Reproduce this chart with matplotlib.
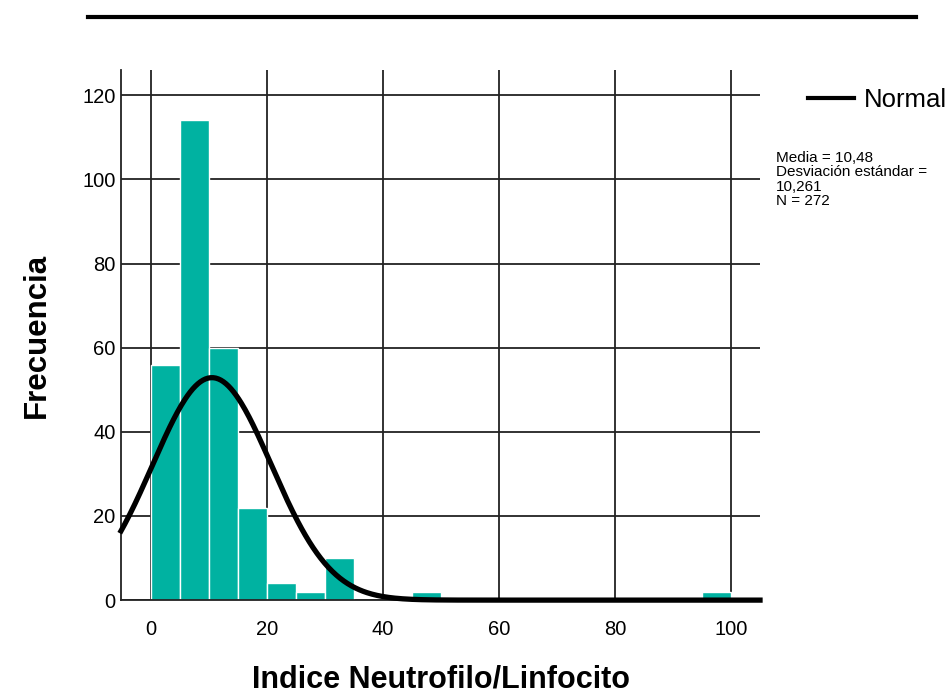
import numpy as np
import matplotlib
matplotlib.use("Agg")
import matplotlib.pyplot as plt
from matplotlib.lines import Line2D

plt.rcParams['font.family'] = ['Liberation Sans', 'DejaVu Sans']

# histogram bins (width 5) and counts
bin_left = [0, 5, 10, 15, 20, 25, 30, 35, 40, 45, 50, 55, 60, 65, 70, 75, 80, 85, 90, 95]
counts = [56, 114, 60, 22, 4, 2, 10, 0, 0, 2, 0, 0, 0, 0, 0, 0, 0, 0, 0, 2]
bin_width = 5
media = 10.48
desv = 10.261
n = 272

fig = plt.figure(figsize=(9.53, 6.97), dpi=100)
ax = fig.add_axes([0.127, 0.139, 0.6705, 0.7606])

ax.bar(bin_left, counts, width=bin_width, align='edge', color='#00b2a1',
       edgecolor='white', linewidth=1.0, zorder=2)

xs = np.linspace(-5.2, 105, 500)
ys = n * bin_width / (desv * np.sqrt(2 * np.pi)) * np.exp(-0.5 * ((xs - media) / desv) ** 2)
ax.plot(xs, ys, color='black', lw=3.8, zorder=3, clip_on=False)

ax.set_xlim(-5.2, 105)
ax.set_ylim(0, 126)
ax.set_xticks([0, 20, 40, 60, 80, 100])
ax.set_yticks([0, 20, 40, 60, 80, 100, 120])
ax.grid(True, color='#222222', lw=1.3, zorder=1)
ax.set_axisbelow(True)
ax.tick_params(length=0, labelsize=14.5)
ax.tick_params(axis='x', pad=14)
ax.tick_params(axis='y', pad=4)
for s in ['top', 'right']:
    ax.spines[s].set_visible(False)
for s in ['left', 'bottom']:
    ax.spines[s].set_color('#222222')
    ax.spines[s].set_linewidth(1.3)

ax.set_xlabel('Indice Neutrofilo/Linfocito', fontsize=22, fontweight='bold', labelpad=19)
ax.set_ylabel('Frecuencia', fontsize=22.5, fontweight='bold', labelpad=22)

# legend
leg = fig.legend(handles=[Line2D([], [], color='black', lw=3)], labels=['Normal'],
                 loc='center left', bbox_to_anchor=(0.848, 0.857), frameon=False,
                 fontsize=18.5, handlelength=1.8, handletextpad=0.35, borderpad=0,
                 borderaxespad=0)
fig.text(0.814, 0.783, 'Media = 10,48\nDesviación estándar =\n10,261\nN = 272',
         fontsize=11, va='top', ha='left', linespacing=1.02)

# top rule line
fig.add_artist(Line2D([0.092, 0.961], [0.975, 0.975], color='black', lw=3,
                      transform=fig.transFigure))

fig.savefig('out.png', dpi=100)
